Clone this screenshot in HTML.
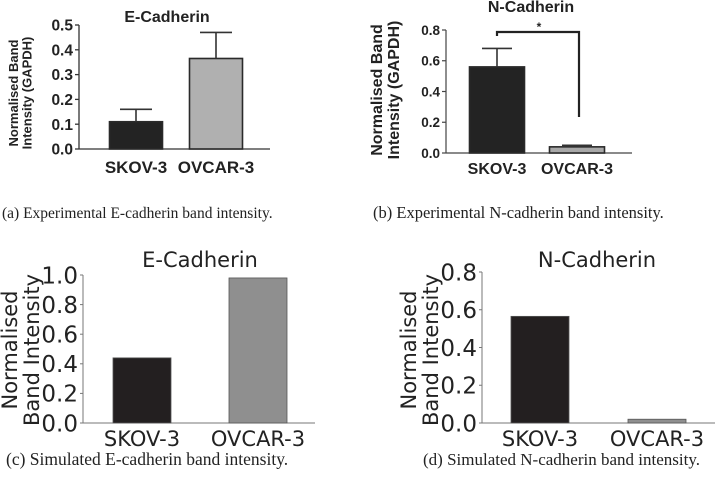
<!DOCTYPE html>
<html><head><meta charset="utf-8"><style>
html,body{margin:0;padding:0;background:#fff;width:715px;height:479px;overflow:hidden}
svg{display:block}
.cap{font-family:"Liberation Serif",serif;fill:#222}
.b{font-family:"Liberation Sans",sans-serif;font-weight:bold;fill:#222}
.d{font-family:"DejaVu Sans",sans-serif;fill:#222}
</style></head><body>
<svg id="s" width="715" height="479" viewBox="0 0 715 479" xmlns="http://www.w3.org/2000/svg">
<text class="cap" x="2" y="218" font-size="15.5">(a) Experimental E-cadherin band intensity.</text>
<text class="cap" x="373" y="218" font-size="16.5">(b) Experimental N-cadherin band intensity.</text>
<text class="cap" x="6" y="465" font-size="17.5">(c) Simulated E-cadherin band intensity.</text>
<text class="cap" x="423" y="465" font-size="17">(d) Simulated N-cadherin band intensity.</text>
</svg>
<script>
const categories = ["SKOV-3","OVCAR-3"];
const expEValues = [0.11, 0.365];
const expEErrors = [0.05, 0.105];
const expETicks = ["0.0","0.1","0.2","0.3","0.4","0.5"];
const expNValues = [0.56, 0.04];
const expNErrors = [0.12, 0.01];
const expNTicks = ["0.0","0.2","0.4","0.6","0.8"];
const simEValues = [0.44, 0.98];
const simETicks = ["0.0","0.2","0.4","0.6","0.8","1.0"];
const simNValues = [0.565, 0.02];
const simNTicks = ["0.0","0.2","0.4","0.6","0.8"];

const svg = document.getElementById('s');
const NS = 'http://www.w3.org/2000/svg';
function mk(tag, attrs, parent, text){
  const e = document.createElementNS(NS, tag);
  for (const k in attrs) if (attrs[k] !== null) e.setAttribute(k, attrs[k]);
  if (text !== undefined) e.textContent = text;
  (parent||svg).appendChild(e);
  return e;
}

function panel(cfg){
  const g = mk('g', {});
  
  
  const ymax = parseFloat(cfg.ticks[cfg.ticks.length-1]);
  const y = v => cfg.y0 - v/ymax*(cfg.y0-cfg.yTop);
  const ya = mk('line',{x1:cfg.x0,x2:cfg.x0,y1:cfg.yTop,y2:cfg.y0,stroke:cfg.axisColor,'stroke-width':cfg.aw},g);
  
  
  const xa = mk('line',{x1:cfg.x0,x2:cfg.x1,y1:cfg.y0,y2:cfg.y0,stroke:cfg.axisColor,'stroke-width':cfg.aw},g);
  
  
  cfg.ticks.forEach(t=>{
    const v = parseFloat(t);
    mk('line',{x1:cfg.x0-cfg.tl,x2:cfg.x0,y1:y(v),y2:y(v),stroke:cfg.axisColor,'stroke-width':cfg.aw},g);
    const tx = mk('text',{x:cfg.x0-cfg.tl-2,y:y(v)+cfg.tfs*0.36,'text-anchor':'end',class:cfg.cls,'font-size':cfg.tfs,fill:cfg.tickFill||'#222'},g,t);
    
    
  });
  cfg.values.forEach((v,i)=>{
    const cx = cfg.centers[i];
    const r = mk('rect',{x:cx-cfg.bw/2,y:y(v),width:cfg.bw,height:cfg.y0-y(v),fill:cfg.colors[i],stroke:cfg.stroke,'stroke-width':cfg.sw},g);
    
    
    if (cfg.errors){
      const top = y(v+cfg.errors[i]);
      const el = mk('path',{d:`M${cx},${y(v)}V${top}M${cx-cfg.cap},${top}H${cx+cfg.cap}`,stroke:'#333','stroke-width':1.6,fill:'none'},g);
      
      
    }
    const lb = mk('text',{x:cx,y:cfg.xly,'text-anchor':'middle',class:cfg.cls,'font-size':cfg.xfs},g,categories[i]);
    
    
  });
  const ti = mk('text',{x:cfg.tx,y:cfg.ty,'text-anchor':'middle',class:cfg.cls,'font-size':cfg.tifs},g,cfg.title);
  
  
  const yl = mk('text',{transform:`translate(${cfg.ylx},${cfg.yly}) rotate(-90)`,'text-anchor':'middle',class:cfg.cls,'font-size':cfg.ylfs,fill:cfg.ylFill||'#222','font-weight':cfg.ylw||null},g);
  
  
  mk('tspan',{x:0,dy:0},yl,cfg.yl[0]);
  mk('tspan',{x:0,dy:cfg.ylfs*1.05},yl,cfg.yl[1]);
  return {g,y};
}

panel({name:'chart-exp-e-cadherin',values:expEValues,errors:expEErrors,ticks:expETicks,x0:79,x1:270,y0:149,yTop:25,
  centers:[136,216],bw:53,colors:['#232323','#b0b0b0'],stroke:'#2a2a2a',sw:1.6,cap:16,
  axisColor:'#333',aw:1.3,tl:4,tfs:15.5,cls:'b',xfs:17,xly:173,title:'E-Cadherin',tx:167,ty:22,tifs:16,
  yl:['Normalised Band','Intensity (GAPDH)'],ylx:18,yly:93,ylfs:13,ylw:'normal',ylFill:'#333'});

const pb = panel({name:'chart-exp-n-cadherin',values:expNValues,errors:expNErrors,ticks:expNTicks,x0:446,x1:632,y0:153,yTop:30,
  centers:[497,577],bw:55,colors:['#232323','#a8a8a8'],stroke:'#2a2a2a',sw:1.6,cap:15,
  axisColor:'#444',aw:1.2,tl:4,tfs:13.5,cls:'b',xfs:16,xly:174,title:'N-Cadherin',tx:531,ty:12,tifs:16,tickFill:'#444',
  yl:['Normalised Band','Intensity (GAPDH)'],ylx:382,yly:90,ylfs:16,ylFill:'#333'});
const br = mk('path',{d:'M497,36V32H579V117',stroke:'#222','stroke-width':2.2,fill:'none'},pb.g);


const st = mk('text',{x:539,y:31,'text-anchor':'middle',class:'b','font-size':12},pb.g,'*');



panel({name:'chart-sim-e-cadherin',values:simEValues,ticks:simETicks,x0:83,x1:315,y0:423,yTop:275,
  centers:[142,258],bw:58,colors:['#231f20','#8f8f8f'],stroke:'#555',sw:0.8,
  axisColor:'#777',aw:1,tl:3,tfs:23,cls:'d',xfs:21,xly:446,title:'E-Cadherin',tx:200,ty:267,tifs:21,
  yl:['Normalised','Band Intensity'],ylx:17,yly:350,ylfs:21});

panel({name:'chart-sim-n-cadherin',values:simNValues,ticks:simNTicks,x0:482,x1:715,y0:423,yTop:272,
  centers:[540,657],bw:58,colors:['#231f20','#8f8f8f'],stroke:'#555',sw:0.8,
  axisColor:'#777',aw:1,tl:3,tfs:23,cls:'d',xfs:21,xly:446,title:'N-Cadherin',tx:597,ty:267,tifs:21,
  yl:['Normalised','Band Intensity'],ylx:416,yly:350,ylfs:21});
</script>
</body></html>
